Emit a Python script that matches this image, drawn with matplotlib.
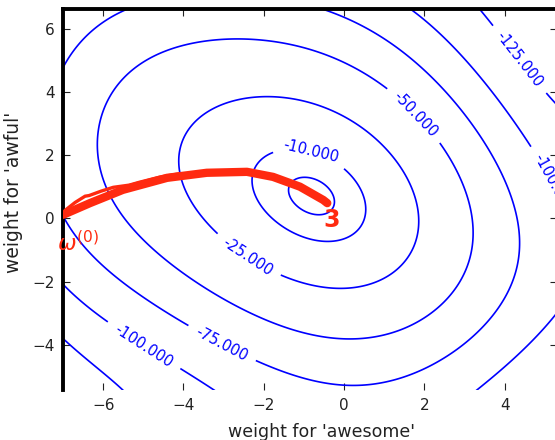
import numpy as np
import matplotlib
matplotlib.use("Agg")
import matplotlib.pyplot as plt

# ---- data -----------------------------------------------------------------
levels = [-125, -100, -75, -50, -25, -10, -6]
labelled_levels = [-125, -100, -75, -50, -25, -10]

# peak of the surface (estimated)
peak_x, peak_y, peak_value = -0.8, 0.70, -5.2

# points (weight 'awesome', weight 'awful')
c6_x = [-1.30, -0.80, -0.30, -0.60, -1.17]
c6_y = [1.05, 1.12, 0.58, 0.26, 0.58]

c10_x = [-0.10, 0.40, 0.52, 0.40, -0.27, -1.35, -2.39, -2.17, -1.85, -0.90]
c10_y = [1.27, 0.67, 0.26, -0.27, -0.69, -0.37, 0.99, 1.75, 2.16, 1.93]

c25_x = [-2.17, -3.92, -4.16, -4.01, -3.09, -2.29, -1.42, -0.35, 0.15, 0.97,
         1.65, 1.72, 1.65, 0.57, -1.60]
c25_y = [3.84, 2.95, 2.07, 1.31, -0.37, -1.00, -1.64, -2.05, -2.05, -1.54,
         -0.29, 0.27, 1.63, 3.11, 3.74]

c50_x = [-6.13, -5.84, -4.66, -3.59, -2.09, -0.02, 1.15, 2.14, 2.97, 3.19,
         2.82, 2.27, 1.67, 0.90, -0.85, -2.84, -4.59, -5.41, -6.16]
c50_y = [2.32, 0.80, -0.84, -2.17, -3.21, -3.76, -3.63, -3.12, -1.95, -0.69,
         0.88, 2.10, 3.17, 4.06, 5.10, 5.74, 5.31, 4.79, 2.07]

c75_x = [-6.71, -6.06, -5.41, -0.27, 1.15, 1.90, 2.97, 4.14, 4.44, 4.21, 3.14,
         1.90, 0.15, -2.27, -3.09, -4.01, -6.26, -6.76]
c75_y = [5.32, 5.96, 6.59, 6.59, 5.71, 4.95, 3.59, 0.67, -1.22, -2.58, -4.06,
         -4.89, -5.18, -4.58, -4.07, -3.54, -1.23, -0.37]

c100_x = [1.72, 1.90, 3.47, 4.81, 5.14, 5.21, 4.39, 3.44, -3.17, -4.09,
          -5.01, -5.96, -6.76]
c100_y = [6.59, 6.34, 5.10, 2.07, 1.20, -2.99, -4.17, -5.43, -5.43, -4.90,
          -4.07, -3.31, -2.48]

c125_x = [3.09, 3.47, 4.29, 5.01, 5.26, 5.19, -6.76, -5.96, -5.16]
c125_y = [6.53, 6.05, 4.90, 3.90, 3.65, -5.43, -4.07, -4.75, -5.43]

# contour label positions
label_x = [4.29, 5.20, -3.09, -5.01, 1.67, -0.87, -2.29]
label_y = [4.95, 1.10, -4.07, -4.07, 3.17, 1.94, -1.00]

# hand-drawn path of gradient ascent (red)
path_x = [-7.00, -6.33, -5.51, -4.41, -3.42, -2.42, -1.77, -1.10, -0.52, -0.42]
path_y = [0.11, 0.48, 0.90, 1.28, 1.44, 1.47, 1.31, 1.00, 0.58, 0.48]
scrib_x = [-6.95, -6.70, -6.45, -6.35, -6.05, -5.75, -5.35, -5.10, -4.60, -4.10]
scrib_y = [0.25, 0.50, 0.70, 0.72, 0.86, 0.98, 1.05, 1.14, 1.30, 1.41]

# ---- surface fitted through the traced contour points ---------------------
# z = peak - polynomial in (w - w_peak) of degree 2..5 (max fixed at the peak)
traces = [(-6, c6_x, c6_y), (-10, c10_x, c10_y), (-25, c25_x, c25_y),
          (-50, c50_x, c50_y), (-75, c75_x, c75_y), (-100, c100_x, c100_y),
          (-125, c125_x, c125_y)]
px, py, pz = [], [], []
for lev, xs, ys in traces:
    px += list(xs)
    py += list(ys)
    pz += [lev] * len(xs)
px, py, pz = np.array(px), np.array(py), np.array(pz, float)

powers = [(i, n - i) for n in range(2, 6) for i in range(n + 1)]
def design(x, y):
    dx, dy = (x - peak_x) / 6.0, (y - peak_y) / 6.0
    return np.stack([dx**i * dy**j for i, j in powers], axis=-1)

wts = 1.0 / np.sqrt(peak_value - pz)
coef, *_ = np.linalg.lstsq(design(px, py) * wts[:, None],
                           (peak_value - pz) * wts, rcond=None)

gx = np.linspace(-7.6, 6.0, 320)
gy = np.linspace(-6.0, 7.2, 320)
GX, GY = np.meshgrid(gx, gy)
GZ = peak_value - design(GX, GY) @ coef

# ---- figure -----------------------------------------------------------------
fig = plt.figure(figsize=(5.55, 4.4), dpi=100)
ax = fig.add_axes([63 / 555, 50 / 440, 494 / 555, 381 / 440])

cs = ax.contour(GX, GY, GZ, levels=levels, colors="#0000ff", linewidths=1.2,
                linestyles="solid")
ax.clabel(cs, levels=labelled_levels, fmt="%.3f", fontsize=10.5, inline=True,
          manual=list(zip(label_x, label_y)), inline_spacing=6)

red = "#ff2a10"
ax.plot(path_x, path_y, color=red, lw=6, solid_capstyle="round",
        solid_joinstyle="round", zorder=5)
ax.plot(scrib_x, scrib_y, color=red, lw=2.4, solid_capstyle="round",
        solid_joinstyle="round", zorder=5)
ax.text(-6.62, -0.78, r"$\omega^{(0)}$", color=red, fontsize=16,
        ha="center", va="center", zorder=6)
ax.text(-0.32, -0.06, "3", color=red, fontsize=17, fontweight="bold",
        ha="center", va="center", zorder=6)

ax.set_xlim(-7, 5.3)
ax.set_ylim(-5.43, 6.62)
ax.set_xticks([-6, -4, -2, 0, 2, 4])
ax.set_yticks([-4, -2, 0, 2, 4, 6])
ax.tick_params(direction="in", top=True, right=True, length=5, width=0.8,
               labelsize=11, pad=6, colors="#222222")
for side in ("bottom", "right"):
    ax.spines[side].set_visible(False)
for side in ("top", "left"):
    ax.spines[side].set_linewidth(2.8)
    ax.spines[side].set_color("black")

ax.set_xlabel("weight for 'awesome'", fontsize=12.5, color="#222222")
ax.set_ylabel("weight for 'awful'", fontsize=13.5, color="#222222")
ax.xaxis.set_label_coords(0.524, -0.087)
ax.yaxis.set_label_coords(-0.08, 0.52)

fig.savefig("out.png", dpi=100)
